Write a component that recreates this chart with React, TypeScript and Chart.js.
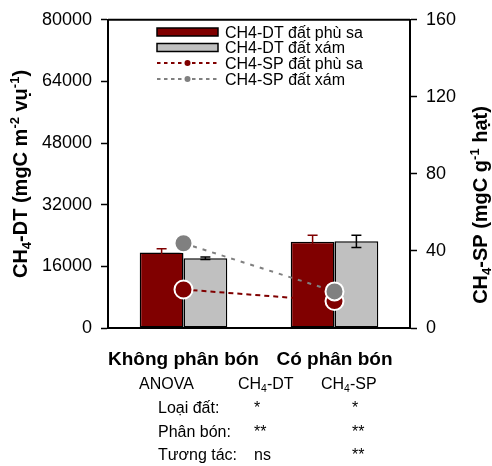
import React, { useEffect, useRef } from "react";
import { Chart, registerables } from "chart.js";

Chart.register(...registerables);

const categories = ["Không phân bón", "Có phân bón"];
const dtPhuSa = [19600, 22400];
const dtPhuSaErr = [950, 1650];
const dtXam = [18100, 22500];
const dtXamErr = [300, 1600];
const spPhuSa = [20, 14];
const spXam = [44, 19];
const legendLabels = ["CH4-DT đất phù sa", "CH4-DT đất xám", "CH4-SP đất phù sa", "CH4-SP đất xám"];
const anovaRows = ["Loại đất:", "Phân bón:", "Tương tác:"];
const anovaDT = ["*", "**", "ns"];
const anovaSP = ["*", "**", "**"];

const RED = "#800000";
const GREY = "#c0c0c0";
const DGREY = "#808080";
const FAM = "'Liberation Sans', Arial, sans-serif";

type Seg = { t: string; s?: "sub" | "sup" };

function drawRich(ctx: CanvasRenderingContext2D, segs: Seg[], x: number, y: number, size: number, weight: string, align: "left" | "center") {
  let total = 0;
  const widths: number[] = [];
  for (const seg of segs) {
    ctx.font = `${weight} ${seg.s ? size * 0.65 : size}px ${FAM}`;
    const w = ctx.measureText(seg.t).width;
    widths.push(w);
    total += w;
  }
  let cx = align === "center" ? x - total / 2 : x;
  ctx.textAlign = "left";
  ctx.textBaseline = "alphabetic";
  segs.forEach((seg, i) => {
    ctx.font = `${weight} ${seg.s ? size * 0.65 : size}px ${FAM}`;
    const dy = seg.s === "sub" ? size * 0.22 : seg.s === "sup" ? -size * 0.4 : 0;
    ctx.fillText(seg.t, cx, y + dy);
    cx += widths[i];
  });
}

const errorBarPlugin = {
  id: "errorBars",
  afterDatasetDraw(chart: any, args: any) {
    const idx = args.index;
    if (idx !== 0 && idx !== 1) return;
    const errs = idx === 0 ? dtPhuSaErr : dtXamErr;
    const vals = idx === 0 ? dtPhuSa : dtXam;
    const color = idx === 0 ? RED : "#000";
    const meta = chart.getDatasetMeta(idx);
    const yScale = chart.scales.y;
    const ctx = chart.ctx;
    ctx.save();
    ctx.strokeStyle = color;
    ctx.lineWidth = 1.5;
    meta.data.forEach((bar: any, i: number) => {
      const x = bar.x;
      const yt = yScale.getPixelForValue(vals[i] + errs[i]);
      const yb = yScale.getPixelForValue(vals[i] - errs[i]);
      ctx.beginPath();
      ctx.moveTo(x, yt);
      ctx.lineTo(x, yb);
      ctx.moveTo(x - 5, yt);
      ctx.lineTo(x + 5, yt);
      ctx.moveTo(x - 5, yb);
      ctx.lineTo(x + 5, yb);
      ctx.stroke();
    });
    ctx.restore();
  },
};

const decorPlugin = {
  id: "decor",
  afterDraw(chart: any) {
    const ctx = chart.ctx as CanvasRenderingContext2D;
    const ca = chart.chartArea;
    ctx.save();
    // top frame line
    ctx.strokeStyle = "#000";
    ctx.lineWidth = 2;
    ctx.beginPath();
    ctx.moveTo(ca.left, ca.top);
    ctx.lineTo(ca.right, ca.top);
    ctx.stroke();

    ctx.fillStyle = "#000";
    // axis titles
    ctx.save();
    ctx.translate(20, 174);
    ctx.rotate(-Math.PI / 2);
    drawRich(ctx, [{ t: "CH" }, { t: "4", s: "sub" }, { t: "-DT (mgC m" }, { t: "-2", s: "sup" }, { t: " vụ" }, { t: "-1", s: "sup" }, { t: ")" }], 0, 7, 20, "bold", "center");
    ctx.restore();
    ctx.save();
    ctx.translate(480, 205);
    ctx.rotate(-Math.PI / 2);
    drawRich(ctx, [{ t: "CH" }, { t: "4", s: "sub" }, { t: "-SP (mgC g" }, { t: "-1", s: "sup" }, { t: " hạt)" }], 0, 7, 20, "bold", "center");
    ctx.restore();

    // legend
    const rows = [32, 47.5, 63, 79];
    const lx0 = 157, lx1 = 218, tx = 225;
    rows.forEach((ry, i) => {
      if (i < 2) {
        ctx.fillStyle = i === 0 ? RED : GREY;
        ctx.fillRect(lx0, ry - 4, lx1 - lx0, 8);
        ctx.strokeStyle = "#000";
        ctx.lineWidth = 1.5;
        ctx.strokeRect(lx0, ry - 4, lx1 - lx0, 8);
      } else {
        const c = i === 2 ? RED : DGREY;
        ctx.strokeStyle = c;
        ctx.lineWidth = 2;
        ctx.setLineDash([3.5, 3.5]);
        ctx.beginPath();
        ctx.moveTo(lx0, ry);
        ctx.lineTo(lx1, ry);
        ctx.stroke();
        ctx.setLineDash([]);
        ctx.fillStyle = c;
        ctx.beginPath();
        ctx.arc((lx0 + lx1) / 2, ry, 3, 0, Math.PI * 2);
        ctx.fill();
      }
      ctx.fillStyle = "#000";
      drawRich(ctx, [{ t: legendLabels[i] }], tx, ry + 5.6, 16, "normal", "left");
    });

    // ANOVA table
    ctx.fillStyle = "#000";
    const fs = 16;
    const bl = (cy: number) => cy + fs * 0.36;
    drawRich(ctx, [{ t: "ANOVA" }], 139, bl(383), fs, "normal", "left");
    drawRich(ctx, [{ t: "CH" }, { t: "4", s: "sub" }, { t: "-DT" }], 238, bl(383), fs, "normal", "left");
    drawRich(ctx, [{ t: "CH" }, { t: "4", s: "sub" }, { t: "-SP" }], 321, bl(383), fs, "normal", "left");
    const ry = [407, 431, 454];
    anovaRows.forEach((lab, i) => {
      drawRich(ctx, [{ t: lab }], 158, bl(ry[i]), fs, "normal", "left");
      drawRich(ctx, [{ t: anovaDT[i] }], 254, bl(ry[i]), fs, "normal", "left");
      drawRich(ctx, [{ t: anovaSP[i] }], 352, bl(ry[i]), fs, "normal", "left");
    });
    ctx.restore();
  },
};

export default function App() {
  const ref = useRef<HTMLCanvasElement | null>(null);
  useEffect(() => {
    if (!ref.current) return;
    const chart = new Chart(ref.current, {
      type: "bar",
      data: {
        labels: categories,
        datasets: [
          { type: "bar", label: legendLabels[0], data: dtPhuSa, backgroundColor: RED, borderColor: "#000", borderWidth: 1.5, borderSkipped: false, yAxisID: "y", order: 2, categoryPercentage: 0.58, barPercentage: 1 },
          { type: "bar", label: legendLabels[1], data: dtXam, backgroundColor: GREY, borderColor: "#000", borderWidth: 1.5, borderSkipped: false, yAxisID: "y", order: 2, categoryPercentage: 0.58, barPercentage: 1 },
          { type: "line", label: legendLabels[2], data: spPhuSa, borderColor: RED, borderWidth: 2, borderDash: [5, 4], pointRadius: 9, pointBackgroundColor: RED, pointBorderColor: "#fff", pointBorderWidth: 2, yAxisID: "y1", order: 1, fill: false },
          { type: "line", label: legendLabels[3], data: spXam, borderColor: DGREY, borderWidth: 2, borderDash: [4, 6], pointRadius: 9, pointBackgroundColor: DGREY, pointBorderColor: "#fff", pointBorderWidth: 2, yAxisID: "y1", order: 0, fill: false },
        ] as any,
      },
      options: {
        animation: false,
        responsive: false,
        layout: { padding: { top: 16, left: 0, right: 0, bottom: 0 } },
        plugins: { legend: { display: false }, tooltip: { enabled: false } },
        scales: {
          x: {
            type: "category",
            offset: true,
            grid: { display: false, drawTicks: false },
            border: { display: true, color: "#000", width: 2 },
            ticks: { color: "#000", font: { family: FAM, size: 19, weight: "bold" }, padding: 20, maxRotation: 0, autoSkip: false },
            afterFit: (s: any) => { s.height = 138; },
          },
          y: {
            position: "left",
            min: 0,
            max: 80000,
            ticks: { stepSize: 16000, color: "#000", font: { family: FAM, size: 18 }, padding: 9, callback: (v: any) => String(v) },
            grid: { drawOnChartArea: false, drawTicks: true, tickLength: 7, color: "#000", tickWidth: 1.5 },
            border: { display: true, color: "#000", width: 2 },
            afterFit: (s: any) => { s.width = 108; },
          },
          y1: {
            position: "right",
            min: 0,
            max: 160,
            ticks: { stepSize: 40, color: "#000", font: { family: FAM, size: 18 }, padding: 9, callback: (v: any) => String(v) },
            grid: { drawOnChartArea: false, drawTicks: true, tickLength: 7, color: "#000", tickWidth: 1.5 },
            border: { display: true, color: "#000", width: 2 },
            afterFit: (s: any) => { s.width = 82; },
          },
        },
      } as any,
      plugins: [errorBarPlugin, decorPlugin],
    });
    return () => chart.destroy();
  }, []);
  return (
    <div style={{ position: "fixed", left: 0, top: 0, width: 492, height: 466, background: "#fff" }}>
      <canvas ref={ref} width={492} height={466} style={{ display: "block" }} />
    </div>
  );
}
